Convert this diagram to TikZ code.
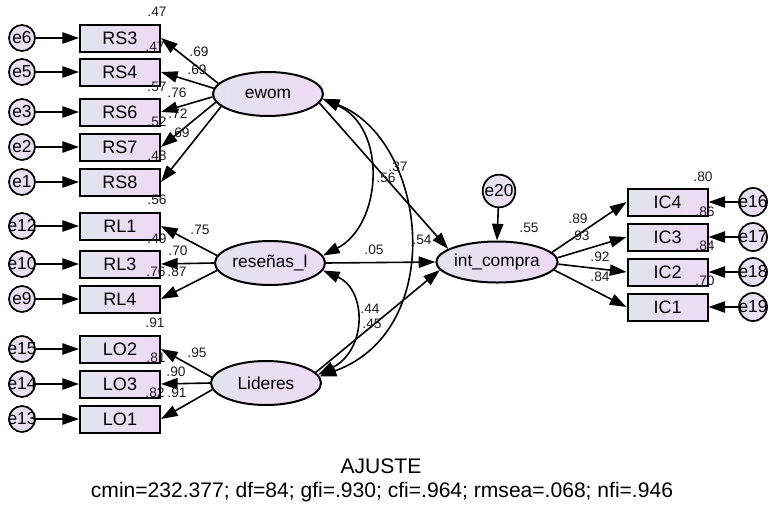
\documentclass[tikz,border=0pt]{standalone}
\usepackage{fontspec}
\setmainfont{Liberation Sans}
\usetikzlibrary{arrows.meta,calc,shapes.geometric}
\definecolor{lftc}{RGB}{226,228,238}
\definecolor{rgtc}{RGB}{238,218,244}
\definecolor{errc}{RGB}{236,222,244}
\definecolor{lblc}{RGB}{30,30,30}
\begin{document}
\begin{tikzpicture}[x=0.75pt,y=-0.75pt,
  obs/.style={draw, line width=1.5pt, minimum width=60pt, minimum height=20.25pt, inner sep=0pt,
              left color=lftc, right color=rgtc, font=\fontsize{13.5}{15}\selectfont},
  lat/.style={ellipse, draw, line width=1.5pt, minimum width=82.5pt, minimum height=33pt, inner sep=0pt,
              left color=lftc, right color=rgtc, font=\fontsize{13}{15}\selectfont},
  err/.style={circle, draw, line width=1.3pt, minimum size=19.5pt, inner sep=0pt,
              left color=lftc!60!errc, right color=errc, font=\fontsize{13}{15}\selectfont},
  lbl/.style={inner sep=0pt, text=lblc, font=\fontsize{10.3}{11}\selectfont},
  arr/.style={-{Triangle[length=12.5pt,width=8.5pt]}, line width=1.2pt},
  dbl/.style={{Triangle[length=12.5pt,width=8.5pt]}-{Triangle[length=12.5pt,width=8.5pt]}, line width=1.2pt}
]
\useasboundingbox[fill=white] (0,0) rectangle (781,511);

% latent variables
\node[lat] (ewom) at (268,94) {ewom};
\node[lat] (res) at (270,263) {reseñas\_l};
\node[lat] (lid) at (266,383) {Lideres};
\node[lat, minimum height=30.75pt] (int) at (497,262) {int\_compra};

% observed (left)
\foreach \nm/\yy in {RS3/38, RS4/72, RS6/112, RS7/147, RS8/182, RL1/226, RL3/264, RL4/299, LO2/349, LO3/384, LO1/419}
  \node[obs] (\nm) at (120,\yy) {\nm};
% observed (right)
\foreach \nm/\yy in {IC4/202, IC3/237, IC2/272, IC1/307}
  \node[obs] (\nm) at (667.5,\yy) {\nm};

% errors left
\foreach \en/\bx in {e6/RS3, e5/RS4, e3/RS6, e2/RS7, e1/RS8, e12/RL1, e10/RL3, e9/RL4, e15/LO2, e14/LO3, e13/LO1} {
  \node[err] (\en) at (22,0 |- \bx) {\makebox[0pt]{\en}};
  \draw[arr] (\en) -- (\bx.west);
}
% errors right
\foreach \en/\bx in {e16/IC4, e17/IC3, e18/IC2, e19/IC1} {
  \node[err, minimum size=21pt] (\en) at (753,0 |- \bx) {\makebox[0pt]{\en}};
  \draw[arr] (\en) -- (\bx.east);
}
\node[err, minimum size=24.5pt] (e20) at (499,191) {\makebox[0pt]{e20}};
\draw[arr] (e20) -- (int.north);

% loadings
\draw[arr] (ewom.168) -- (RS3.east);
\draw[arr] (ewom.174) -- (RS4.east);
\draw[arr] (ewom.183) -- (RS6.east);
\draw[arr] (ewom.189) -- (RS7.east);
\draw[arr] (ewom.195) -- (RS8.east);
\draw[arr] (res.172) -- (RL1.east);
\draw[arr] (res.180) -- (RL3.east);
\draw[arr] (res.188) -- (RL4.east);
\draw[arr] (lid.174) -- (LO2.east);
\draw[arr] (lid.180) -- (LO3.east);
\draw[arr] (lid.187) -- (LO1.east);
\draw[arr] (int.10) -- (IC4.west);
\draw[arr] (int.4) -- (IC3.west);
\draw[arr] (int.-2) -- (IC2.west);
\draw[arr] (int.-8) -- (IC1.west);

% structural paths
\draw[arr] (ewom.-10) -- (int.165);
\draw[arr] (res.east) -- (int.west);
\draw[arr] (lid.12) -- (int.188);

% covariances
\draw[dbl] (ewom.-5) .. controls (388,128) and (382,225) .. (res.8);
\draw[dbl] (ewom.-5) .. controls (428,140) and (448,330) .. (lid.7);
\draw[dbl] (res.-8) .. controls (367,290) and (367,350) .. (lid.9);

% labels
\node[lbl] (t1) at (157,12) {.47};
\node[lbl] (t2) at (155,47) {.47};
\node[lbl] (t3) at (199,52) {.69};
\node[lbl] (t4) at (197,70) {.69};
\node[lbl] (t5) at (157,87) {.57};
\node[lbl] (t6) at (177,93) {.76};
\node[lbl] (t7) at (178,114) {.72};
\node[lbl] (t8) at (157,122) {.52};
\node[lbl] (t9) at (180,133) {.69};
\node[lbl] (t10) at (157,156) {.48};
\node[lbl] (t11) at (157,200) {.56};
\node[lbl] (t12) at (200,230) {.75};
\node[lbl] (t13) at (157,239) {.49};
\node[lbl] (t14) at (178,251) {.70};
\node[lbl] (t15) at (156,272) {.76};
\node[lbl] (t16) at (177,272) {.87};
\node[lbl] (t17) at (155,323) {.91};
\node[lbl] (t18) at (197,353) {.95};
\node[lbl] (t19) at (156,358) {.81};
\node[lbl] (t20) at (176,372) {.90};
\node[lbl] (t21) at (155,393) {.82};
\node[lbl] (t22) at (177,393) {.91};
\node[lbl] (t23) at (386,178) {.56};
\node[lbl] (t24) at (398,167) {.37};
\node[lbl] (t25) at (422,240) {.54};
\node[lbl] (t26) at (374,250) {.05};
\node[lbl] (t27) at (529,228) {.55};
\node[lbl] (t28) at (370,309) {.44};
\node[lbl] (t29) at (372,324) {.45};
\node[lbl] (t30) at (703,177) {.80};
\node[lbl] (t31) at (705,212) {.86};
\node[lbl] (t32) at (705,246) {.84};
\node[lbl] (t33) at (705,281) {.70};
\node[lbl] (t34) at (578,219) {.89};
\node[lbl] (t35) at (580,236) {.93};
\node[lbl] (t36) at (600,257) {.92};
\node[lbl] (t37) at (600,277) {.84};

% fit
\node[font=\fontsize{15.8}{17}\selectfont, inner sep=0pt] (fitA) at (381,466) {AJUSTE};
\node[font=\fontsize{15.8}{17}\selectfont, inner sep=0pt] (fitB) at (382,492) {cmin=232.377; df=84; gfi=.930; cfi=.964; rmsea=.068; nfi=.946};
\end{tikzpicture}
\end{document}
